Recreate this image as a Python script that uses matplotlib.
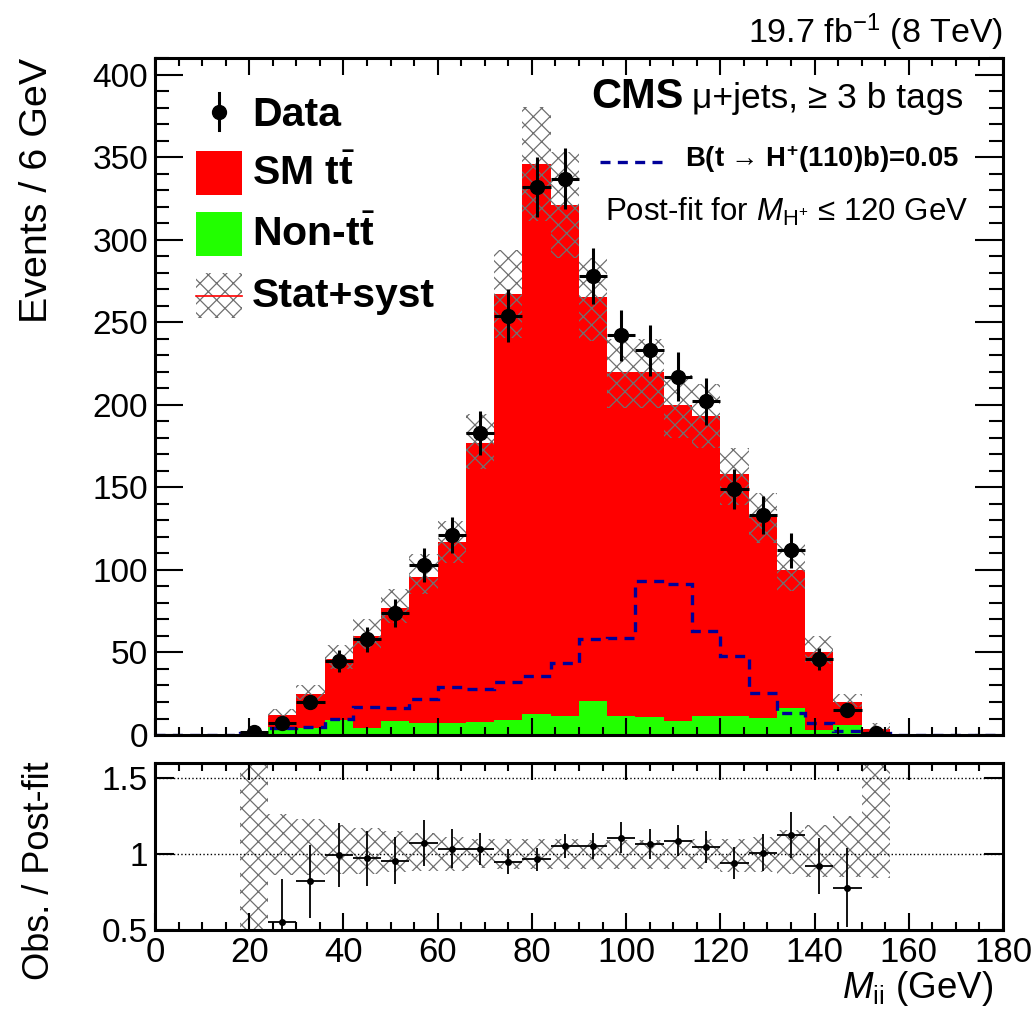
import matplotlib
matplotlib.use("Agg")

import matplotlib.pyplot as plt
import numpy as np
from matplotlib.patches import Rectangle
from matplotlib.ticker import MultipleLocator, FixedLocator, NullLocator

plt.rcParams["font.family"] = ["Liberation Sans", "DejaVu Sans"]
plt.rcParams["mathtext.fontset"] = "custom"
plt.rcParams["mathtext.rm"] = "Liberation Sans"
plt.rcParams["mathtext.it"] = "Liberation Sans:italic"
plt.rcParams["mathtext.bf"] = "Liberation Sans:bold"
plt.rcParams["hatch.linewidth"] = 0.9

# ---------------------------------------------------------------------------
# Data, 6 GeV bins from 0 to 180 GeV
# ---------------------------------------------------------------------------
bin_edges = np.arange(0, 181, 6)

ttbar = [0, 0, 0, 0.2, 7.3, 20.8, 37, 55.6, 68.5, 88.5,
         110, 169, 258, 333.3, 309.5, 244.4, 208.3, 208.9, 191.5, 181.3,
         146.3, 121.5, 83.8, 47.5, 14, 2.5, 0, 0, 0, 0]
non_ttbar = [0, 0, 0, 0.8, 5, 4, 9, 4.4, 8.5, 7.5,
             7, 8, 9, 12.7, 11.5, 20.6, 11.7, 11.1, 8.5, 11.7,
             11.7, 10.5, 16.2, 3, 6, 1, 0, 0, 0, 0]
signal_b005 = [0, 0, 0, 1, 4.4, 5.1, 9.5, 16.8, 16.2, 21.8,
               29.3, 27.7, 32.3, 35.8, 43.4, 58, 59, 93, 91.3, 63.2,
               47.9, 25.6, 13.1, 7.5, 2.4, 1, 0, 0, 0, 0]

# relative stat+syst band (post-fit), nan where no prediction
band_lo = [np.nan] * 3 + [0.0, 0.86, 0.86, 0.87, 0.87, 0.88, 0.89,
                          0.89, 0.91, 0.90, 0.90, 0.90, 0.90, 0.90, 0.90, 0.90, 0.90,
                          0.88, 0.88, 0.87, 0.85, 0.85, 0.84] + [np.nan] * 4
band_hi = [np.nan] * 3 + [2.0, 1.26, 1.23, 1.19, 1.17, 1.15, 1.14,
                          1.11, 1.10, 1.10, 1.10, 1.10, 1.09, 1.09, 1.09, 1.09, 1.10,
                          1.10, 1.11, 1.16, 1.19, 1.25, 2.0] + [np.nan] * 4

data_mass = [21, 27, 33, 39, 45, 51, 57, 63, 69, 75, 81, 87,
             93, 99, 105, 111, 117, 123, 129, 135, 141, 147, 153]
data_counts = [2, 7, 20, 45, 58, 74, 103, 121, 183, 254, 332, 337,
               278, 242, 233, 217, 202, 149, 133, 112, 46, 15, 1]

ratio_mass = [27, 33, 39, 45, 51, 57, 63, 69, 75, 81, 87,
              93, 99, 105, 111, 117, 123, 129, 135, 141, 147]
ratio_vals = [0.555, 0.822, 0.993, 0.971, 0.956, 1.07, 1.035, 1.035, 0.95, 0.965, 1.053,
              1.053, 1.107, 1.066, 1.088, 1.048, 0.943, 1.009, 1.123, 0.923, 0.778]
ratio_errs = [0.28, 0.24, 0.21, 0.18, 0.155, 0.15, 0.13, 0.105, 0.08, 0.075, 0.08,
              0.087, 0.1, 0.098, 0.103, 0.105, 0.105, 0.12, 0.15, 0.185, 0.26]

RED = "#ff0000"
GREEN = "#22ff00"
NAVY = "#00009a"
HATCH_GREY = "#707070"
HATCH = "xx"

# ---------------------------------------------------------------------------
# Figure
# ---------------------------------------------------------------------------
fig = plt.figure(figsize=(10.36, 10.13), dpi=100)
ax = fig.add_axes([0.1496, 0.2744, 0.8185, 0.6683])
rax = fig.add_axes([0.1496, 0.0819, 0.8185, 0.1652])

ttbar = np.asarray(ttbar, dtype=float)
non_ttbar = np.asarray(non_ttbar, dtype=float)
total = ttbar + non_ttbar
band_lo = np.asarray(band_lo)
band_hi = np.asarray(band_hi)
centers = 0.5 * (bin_edges[:-1] + bin_edges[1:])
width = np.diff(bin_edges)
has_band = ~np.isnan(band_lo)

# main panel: stack
ax.stairs(total, bin_edges, fill=True, color=RED, linewidth=0)
ax.stairs(non_ttbar, bin_edges, fill=True, color=GREEN, linewidth=0)
ax.bar(centers[has_band], (total * (band_hi - band_lo))[has_band],
       bottom=(total * band_lo)[has_band], width=width[has_band],
       fill=False, hatch=HATCH, edgecolor=HATCH_GREY, linewidth=0)
ax.stairs(signal_b005, bin_edges, color=NAVY, linewidth=2.4,
          linestyle=(0, (3, 2.2)))

counts = np.asarray(data_counts, dtype=float)
ax.errorbar(data_mass, counts, xerr=3, yerr=np.sqrt(counts), fmt="o",
            color="black", ms=10, elinewidth=2.2, capsize=0, zorder=5)

ax.set_xlim(0, 180)
ax.set_ylim(0, 410)
ax.xaxis.set_major_locator(MultipleLocator(20))
ax.xaxis.set_minor_locator(MultipleLocator(5))
ax.yaxis.set_major_locator(MultipleLocator(50))
ax.yaxis.set_minor_locator(MultipleLocator(10))
ax.tick_params(which="both", direction="in", top=True, right=True, width=1.5)
ax.tick_params(axis="y", which="major", length=20, labelsize=24, pad=5)
ax.tick_params(axis="y", which="minor", length=10)
ax.tick_params(axis="x", which="major", length=12, labelbottom=False)
ax.tick_params(axis="x", which="minor", length=6)
for sp in ax.spines.values():
    sp.set_linewidth(2.2)

# legend (left)
tr = ax.transAxes
ax.plot([0.0755], [0.920], "o", color="black", ms=10, transform=tr)
ax.plot([0.0755, 0.0755], [0.894, 0.948], color="black", lw=2.2, transform=tr)
ax.add_patch(Rectangle((0.048, 0.7977), 0.055, 0.065, transform=tr,
                       facecolor=RED, edgecolor="none"))
ax.add_patch(Rectangle((0.048, 0.7075), 0.055, 0.065, transform=tr,
                       facecolor=GREEN, edgecolor="none"))
ax.add_patch(Rectangle((0.048, 0.616), 0.055, 0.066, transform=tr,
                       fill=False, hatch=HATCH, edgecolor=HATCH_GREY, linewidth=0))
ax.plot([0.048, 0.103], [0.6485, 0.6485], color=RED, lw=1.2, transform=tr)

leg_kw = dict(transform=tr, fontsize=29.5, fontweight="bold", va="baseline", ha="left")
ax.text(0.1144, 0.900, "Data", **leg_kw)
ax.text(0.1144, 0.8124, r"SM $\mathbf{t}\bar{\mathbf{t}}$", **leg_kw)
ax.text(0.1144, 0.7228, r"Non-$\mathbf{t}\bar{\mathbf{t}}$", **leg_kw)
ax.text(0.1144, 0.6318, "Stat+syst", **leg_kw)

# annotations (right)
ax.text(0.515, 0.9257, "CMS", transform=tr, fontsize=30, fontweight="bold",
        va="baseline", ha="left")
ax.text(0.633, 0.9257, "\u03bc+jets, \u2265 3 b tags", transform=tr, fontsize=25.5,
        va="baseline", ha="left")
ax.plot([0.525, 0.604], [0.8468, 0.8468], color=NAVY, lw=2.4,
        linestyle=(0, (3, 2.2)), transform=tr)
ax.text(0.625, 0.8395, "B(t \u2192 H$^{\\mathbf{+}}$(110)b)=0.05", transform=tr,
        fontsize=19.8, fontweight="bold", va="baseline", ha="left")
ax.text(0.5307, 0.7597, "Post-fit for $M_{\\mathrm{H}^{+}}$ \u2264 120 GeV",
        transform=tr, fontsize=22.5, va="baseline", ha="left")

fig.text(0.968, 0.957, r"19.7 fb$^{-1}$ (8 TeV)", fontsize=24.5, ha="right", va="baseline")
fig.text(0.036, 1 - 58 / 1013, "Events / 6 GeV", fontsize=28.4, rotation=90,
         ha="center", va="top")

# ratio panel
rax.bar(centers[has_band], (band_hi - band_lo)[has_band], bottom=band_lo[has_band],
        width=width[has_band], fill=False, hatch=HATCH, edgecolor=HATCH_GREY, linewidth=0)
rax.axhline(1.0, color="black", lw=1, linestyle=":")
rax.axhline(1.5, color="black", lw=1, linestyle=":")
rax.errorbar(ratio_mass, ratio_vals, xerr=3, yerr=ratio_errs, fmt="o",
             color="black", ms=4, elinewidth=1.3, capsize=0, zorder=5)
rax.set_xlim(0, 180)
rax.set_ylim(0.5, 1.6)
rax.xaxis.set_major_locator(MultipleLocator(20))
rax.xaxis.set_minor_locator(MultipleLocator(5))
rax.yaxis.set_major_locator(FixedLocator([0.5, 1.0, 1.5]))
rax.yaxis.set_minor_locator(NullLocator())
rax.set_yticklabels(["0.5", "1", "1.5"])
rax.tick_params(which="both", direction="in", top=True, right=True, width=1.5)
rax.tick_params(axis="y", which="major", length=14, labelsize=24, pad=5)
rax.tick_params(axis="x", which="major", length=12, labelsize=25, pad=4)
rax.tick_params(axis="x", which="minor", length=6)
for sp in rax.spines.values():
    sp.set_linewidth(2.2)

fig.text(0.038, 1 - 871 / 1013, "Obs. / Post-fit", fontsize=26, rotation=90,
         ha="center", va="center")
fig.text(0.9585, 0.0148, r"$M_{\mathrm{ii}}$ (GeV)", fontsize=26.5, ha="right", va="baseline")

fig.savefig("out.png", dpi=100)
